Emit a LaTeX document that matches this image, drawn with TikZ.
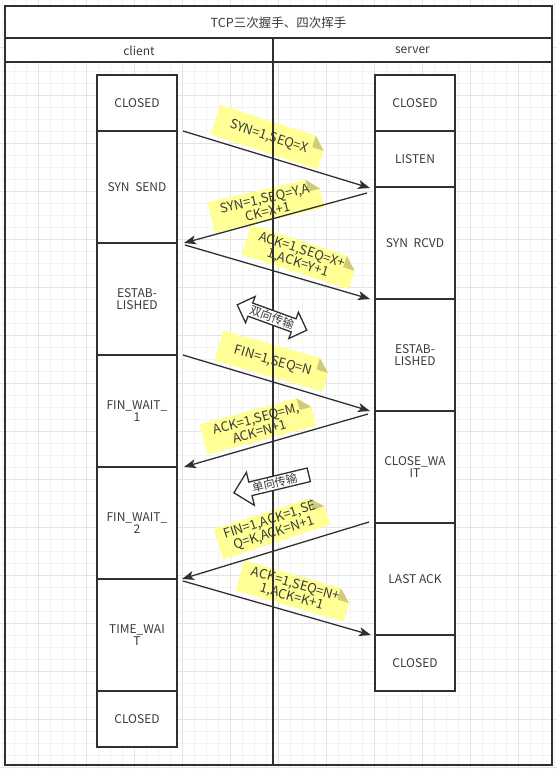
\documentclass[tikz,border=0pt]{standalone}
\usepackage{fontspec}
\setmainfont{Noto Sans CJK SC}
\usetikzlibrary{shapes.arrows,arrows.meta,calc}
\definecolor{notey}{HTML}{FFFF96}
\definecolor{foldc}{HTML}{CFCB78}
\definecolor{txtc}{HTML}{3A3A3A}
\definecolor{lnc}{HTML}{303030}
\definecolor{gmin}{HTML}{F3F3F3}
\definecolor{gmaj}{HTML}{E4E4E4}
\pgfdeclarelayer{gridlayer}
\pgfdeclarelayer{notelayer}
\pgfsetlayers{gridlayer,notelayer,main}
\newcommand\boxfont{\fontsize{12}{12}\selectfont}
\newcommand\notefont{\fontsize{13}{13.5}\selectfont}
\newcommand\lblfont{\fontsize{12}{13}\selectfont}
\newcommand\titlefont{\fontsize{12.5}{13}\selectfont}
\newcommand\arrfont{\fontsize{11.5}{12}\selectfont}
\newcommand\notefold[1]{%
  \coordinate (#1-a) at ($(#1.north east)!12pt!(#1.north west)$);
  \coordinate (#1-b) at ($(#1.north east)!12pt!(#1.south east)$);
  \coordinate (#1-c) at ($(#1-a)+(#1-b)-(#1.north east)$);
  \begin{pgfonlayer}{notelayer}
    \fill[notey] (#1.north west) -- (#1-a) -- (#1-b) -- (#1.south east) -- (#1.south west) -- cycle;
    \fill[foldc] (#1-a) -- (#1-c) -- (#1-b) -- cycle;
  \end{pgfonlayer}}
\begin{document}
\begin{tikzpicture}[x=1pt,y=-1pt,
  framel/.style={draw=lnc,line width=1.8pt},
  statebox/.style={draw=lnc,line width=1.8pt,fill=white,minimum width=80pt,inner sep=0pt,text=txtc,font=\boxfont,align=center},
  notebox/.style={rectangle,inner sep=0pt,minimum width=112pt,minimum height=31pt,text=txtc,font=\notefont,align=center},
  msgline/.style={draw=lnc,line width=1.3pt,-{Stealth[length=12pt,width=9pt,inset=3pt]}},
  lbl/.style={text=txtc,font=\lblfont},
  dirarrow/.style={draw=lnc,line width=1.3pt,fill=white,inner sep=1pt,text=txtc,font=\arrfont}
]
\useasboundingbox (0,0) rectangle (557,769);
% grid
\begin{pgfonlayer}{gridlayer}
  \fill[white] (0,0) rectangle (557,769);
  \foreach \x in {2.7,14.7,...,557} \draw[gmin,line width=0.8pt] (\x,0) -- (\x,769);
  \foreach \y in {11.3,23.3,...,769} \draw[gmin,line width=0.8pt] (0,\y) -- (557,\y);
  \foreach \x in {38.7,86.7,...,557} \draw[gmaj,line width=0.8pt] (\x,0) -- (\x,769);
  \foreach \y in {47.3,95.3,...,769} \draw[gmaj,line width=0.8pt] (0,\y) -- (557,\y);
\end{pgfonlayer}

% notes
\node[notebox,rotate=-18] (n1) at (269,137) {SYN=1,SEQ=X};
\notefold{n1}
\node[notebox,rotate=13] (n2) at (266,205) {SYN=1,SEQ=Y,A\\CK=X+1};
\notefold{n2}
\node[notebox,rotate=-18] (n3) at (300,257) {ACK=1,SEQ=X+\\1,ACK=Y+1};
\notefold{n3}
\node[notebox,rotate=-16] (n4) at (273,361) {FIN=1,SEQ=N};
\notefold{n4}
\node[notebox,rotate=15] (n5) at (258,425) {ACK=1,SEQ=M,\\ACK=N+1};
\notefold{n5}
\node[notebox,rotate=18] (n6) at (272,527) {FIN=1,ACK=1,SE\\Q=K,ACK=N+1};
\notefold{n6}
\node[notebox,rotate=-16] (n7) at (294,591) {ACK=1,SEQ=N+\\1,ACK=K+1};
\notefold{n7}

% frame
\fill[white] (5,6) rectangle (552,62);
\draw[framel] (5,6) rectangle (552,765);
\draw[framel] (5,38) -- (552,38);
\draw[framel] (5,62) -- (552,62);
\draw[framel] (273,38) -- (273,765);
\node[lbl,font=\titlefont] (title) at (278.5,22.5) {TCP三次握手、四次挥手};
\node[lbl] (client) at (139,50.5) {client};
\node[lbl] (server) at (412.5,50.5) {server};

% client states
\node[statebox,minimum height=56pt]  (c1) at (137,103) {CLOSED};
\node[statebox,minimum height=112pt] (c2) at (137,187) {SYN\hspace{3pt} SEND};
\node[statebox,minimum height=112pt] (c3) at (137,299) {ESTAB-\\LISHED};
\node[statebox,minimum height=112pt] (c4) at (137,411) {FIN\_WAIT\_\\1};
\node[statebox,minimum height=112pt] (c5) at (137,523) {FIN\_WAIT\_\\2};
\node[statebox,minimum height=112pt] (c6) at (137,635) {TIME\_WAI\\T};
\node[statebox,minimum height=56pt]  (c7) at (137,719) {CLOSED};
% server states
\node[statebox,minimum height=56pt]  (s1) at (415,103) {CLOSED};
\node[statebox,minimum height=56pt]  (s2) at (415,159) {LISTEN};
\node[statebox,minimum height=112pt] (s3) at (415,243) {SYN\hspace{3pt} RCVD};
\node[statebox,minimum height=112pt] (s4) at (415,355) {ESTAB-\\LISHED};
\node[statebox,minimum height=112pt] (s5) at (415,467) {CLOSE\_WA\\IT};
\node[statebox,minimum height=112pt] (s6) at (415,579) {LAST ACK};
\node[statebox,minimum height=56pt]  (s7) at (415,663) {CLOSED};

% message end points
\coordinate (m1s) at (183,131); \coordinate (m1e) at (370,188);
\coordinate (m2s) at (367,193); \coordinate (m2e) at (184,243);
\coordinate (m3s) at (185,245); \coordinate (m3e) at (370,299);
\coordinate (m4s) at (183,355); \coordinate (m4e) at (370,411);
\coordinate (m5s) at (368,414); \coordinate (m5e) at (184,467);
\coordinate (m6s) at (369,522); \coordinate (m6e) at (182,579);
\coordinate (m7s) at (183,581); \coordinate (m7e) at (371,635);
\draw[msgline] (m1s) -- (m1e);
\draw[msgline] (m2s) -- (m2e);
\draw[msgline] (m3s) -- (m3e);
\draw[msgline] (m4s) -- (m4e);
\draw[msgline] (m5s) -- (m5e);
\draw[msgline] (m6s) -- (m6e);
\draw[msgline] (m7s) -- (m7e);

% direction arrows
\node[dirarrow,double arrow,rotate=-20,minimum height=74pt,double arrow head extend=7pt] (both) at (272,317.5) {双向传输};
\node[dirarrow,single arrow,shape border rotate=180,rotate=13.5,minimum height=77pt,single arrow head extend=10pt,anchor=tip] (one) at (233,493) {单向传输};
\end{tikzpicture}
\end{document}
